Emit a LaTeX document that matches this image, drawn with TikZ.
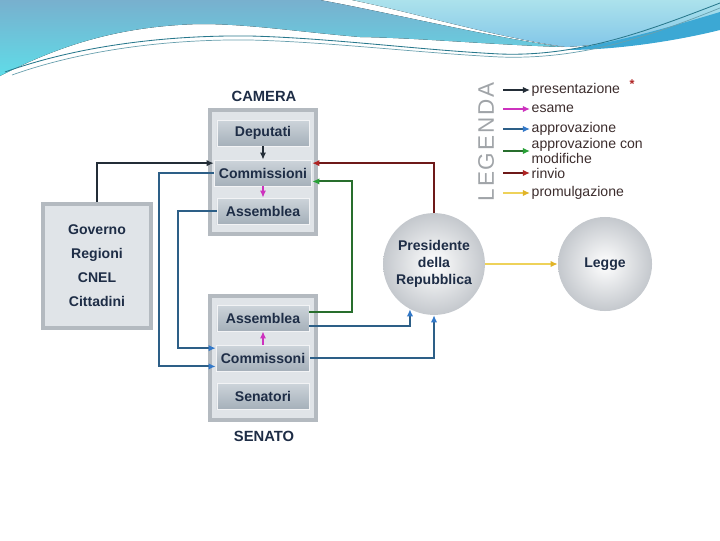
\documentclass[tikz,border=0pt]{standalone}
\usepackage{fontspec}
\setmainfont{Liberation Sans}
\usetikzlibrary{arrows.meta}

\definecolor{navy}{RGB}{30,45,70}
\definecolor{framegray}{RGB}{180,186,192}
\definecolor{framelight}{RGB}{224,228,232}
\definecolor{organtop}{RGB}{205,212,218}
\definecolor{organbot}{RGB}{165,176,186}
\definecolor{presline}{RGB}{35,45,55}
\definecolor{esamecol}{RGB}{205,50,190}
\definecolor{approvline}{RGB}{45,95,135}
\definecolor{approvtip}{RGB}{50,120,200}
\definecolor{modline}{RGB}{40,110,45}
\definecolor{modtip}{RGB}{40,160,55}
\definecolor{rinvioline}{RGB}{110,25,25}
\definecolor{rinviotip}{RGB}{175,35,35}
\definecolor{promline}{RGB}{238,210,90}
\definecolor{promtip}{RGB}{225,180,40}
\definecolor{legendgray}{RGB}{160,164,168}
\definecolor{legendtext}{RGB}{60,45,45}
\definecolor{wavedark}{RGB}{120,176,206}
\definecolor{wavecyan}{RGB}{95,220,232}
\definecolor{wavelight}{RGB}{172,226,236}
\definecolor{wavemid}{RGB}{130,198,232}
\definecolor{waveband}{RGB}{60,168,212}
\definecolor{waveline}{RGB}{40,120,140}

\begin{document}
\begin{tikzpicture}
    [
        x=0.025cm, y=-0.025cm,
        chamber/.style={draw=framegray, line width=3pt, fill=framelight, minimum width=2.65cm, minimum height=3.1cm},
        organ/.style={top color=organtop, bottom color=organbot, draw=white!85!organbot, line width=0.6pt, minimum width=2.3cm, minimum height=0.65cm, text=navy, font=\fontsize{10}{12}\selectfont\bfseries},
        title/.style={text=navy, font=\fontsize{10.5}{12}\selectfont\bfseries},
        ball/.style={circle, shading=radial, inner color=white, outer color={rgb,255:red,196;green,200;blue,205}, minimum size=2.35cm, align=center, text=navy, font=\fontsize{10}{12}\selectfont\bfseries},
        legendtxt/.style={anchor=west, inner sep=1pt, align=left, text=legendtext, font=\fontsize{10}{9}\selectfont},
        presentazione/.style={draw=presline, line width=1.4pt, -{Latex[length=5pt,width=4.5pt]}},
        esame/.style={draw=esamecol, line width=1.4pt, -{Latex[length=5pt,width=4.5pt]}},
        approvazione/.style={draw=approvline, line width=1.4pt, -{Latex[length=5pt,width=4.5pt,color=approvtip]}},
        modifiche/.style={draw=modline, line width=1.4pt, -{Latex[length=5pt,width=4.5pt,color=modtip]}},
        rinvio/.style={draw=rinvioline, line width=1.4pt, -{Latex[length=5pt,width=4.5pt,color=rinviotip]}},
        promulgazione/.style={draw=promline, line width=1.4pt, -{Latex[length=5pt,width=4.5pt,color=promtip]}}
    ]

    \useasboundingbox (0,0) rectangle (720,540);

    % header waves
    \fill[top color=wavedark, bottom color=wavecyan]
        (0,0) -- (320,0) .. controls (400,15) and (480,35) .. (562,47)
        .. controls (480,44) and (420,38) .. (360,37)
        .. controls (300,32) and (250,24) .. (200,24)
        .. controls (120,26) and (60,45) .. (0,76) -- cycle;
    \fill[top color=wavelight, bottom color=wavemid]
        (352,0) -- (720,0) -- (720,16) .. controls (680,30) and (620,44) .. (566,47)
        .. controls (490,36) and (420,14) .. (352,0) -- cycle;
    \fill[waveband]
        (566,50) .. controls (620,42) and (680,24) .. (720,12) -- (720,30)
        .. controls (680,40) and (620,50) .. (566,50) -- cycle;
    \draw[waveline, line width=0.6pt]
        (5,72) .. controls (80,45) and (170,35) .. (250,36)
        .. controls (330,38) and (420,50) .. (500,54)
        .. controls (580,57) and (650,30) .. (720,3);
    \draw[waveline!70, line width=0.5pt]
        (12,75) .. controls (85,49) and (172,39) .. (250,40)
        .. controls (330,42) and (420,53) .. (500,57)
        .. controls (585,60) and (655,34) .. (720,8);

    % camera
    \node[title] (camlabel) at (264,96) {CAMERA};
    \node[chamber] (camera) at (263,172) {};
    \node[organ] (dep) at (263,133) {Deputati};
    \node[organ] (camcom) at (263,173) {Commissioni};
    \node[organ] (camass) at (263,211) {Assemblea};

    % senato
    \node[chamber] (senato) at (263,358) {};
    \node[organ] (senass) at (263,318) {Assemblea};
    \node[organ] (sencom) at (263,358) {Commissoni};
    \node[organ] (sensen) at (263,396) {Senatori};
    \node[title] (senlabel) at (264,436) {SENATO};

    % proponenti
    \node[chamber, minimum width=2.68cm, align=center, text=navy, font=\fontsize{10}{17}\selectfont\bfseries] (gov) at (97,266) {Governo\\Regioni\\CNEL\\Cittadini};

    \node[ball] (pres) at (434,264) {Presidente\\della\\Repubblica};
    \node[ball] (legge) at (605,264) {Legge};

    % connectors
    \draw[presentazione] (gov.north) |- ([yshift=7pt]camcom.west);
    \draw[presentazione] (dep.south) -- (camcom.north);
    \draw[esame] (camcom.south) -- (camass.north);
    \draw[esame] (sencom.north) -- (senass.south);
    \draw[approvazione] (camcom.west) -- ++(-55,0) |- ([yshift=-6pt]sencom.west);
    \draw[approvazione] (camass.west) -- ++(-39,0) |- ([yshift=7pt]sencom.west);
    \draw[modifiche] ([yshift=4pt]senass.east) -- ++(43,0) |- ([yshift=-6pt]camcom.east);
    \draw[rinvio] (pres.north) |- ([yshift=7pt]camcom.east);
    \draw[approvazione] ([yshift=-6pt]senass.east) -| (pres.242);
    \draw[approvazione] (sencom.east) -| (pres.south);
    \draw[promulgazione] (pres.east) -- (legge.west);

    % legenda
    \node[rotate=90, text=legendgray, font=\fontsize{16}{16}\selectfont\addfontfeature{LetterSpace=8}] (legenda) at (486,142) {LEGENDA};
    \node[legendtxt] (leg1) at (530,90) {presentazione};
    \node[legendtxt] (leg2) at (530,109) {esame};
    \node[legendtxt] (leg3) at (530,129) {approvazione};
    \node[legendtxt] (leg4) at (530,151) {approvazione con\\modifiche};
    \node[legendtxt] (leg5) at (530,173) {rinvio};
    \node[legendtxt] (leg6) at (530,193) {promulgazione};
    \node[text=rinviotip, font=\fontsize{9}{9}\selectfont\bfseries] (star) at (632,84) {*};
    \coordinate (l1) at (503,90);
    \coordinate (l2) at (503,109);
    \coordinate (l3) at (503,129);
    \coordinate (l4) at (503,151);
    \coordinate (l5) at (503,173);
    \coordinate (l6) at (503,193);
    \draw[presentazione] (l1) -- (leg1.west);
    \draw[esame] (l2) -- (leg2.west);
    \draw[approvazione] (l3) -- (leg3.west);
    \draw[modifiche] (l4) -- (leg4.west);
    \draw[rinvio] (l5) -- (leg5.west);
    \draw[promulgazione] (l6) -- (leg6.west);
\end{tikzpicture}
\end{document}
